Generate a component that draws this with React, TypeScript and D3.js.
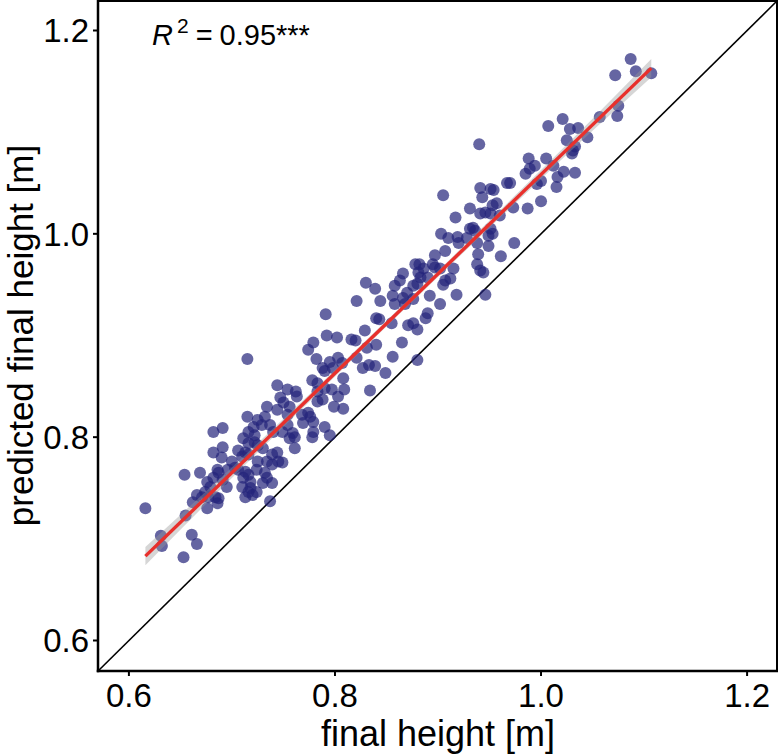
import React from 'react';
import * as d3 from 'd3';

// [final height, predicted final height] in metres
const observations: [number, number][] = [
  [0.616, 0.730], [0.654, 0.763], [0.655, 0.723], [0.631, 0.703], [0.632, 0.693], [0.661, 0.704], [0.666, 0.695], [0.653, 0.682],
  [0.715, 0.877], [0.782, 0.877], [0.795, 0.874], [0.803, 0.878], [0.807, 0.873], [0.788, 0.868], [0.790, 0.865], [0.798, 0.868],
  [0.808, 0.858], [0.778, 0.856], [0.783, 0.853], [0.744, 0.851], [0.754, 0.847], [0.762, 0.845], [0.763, 0.840], [0.747, 0.839],
  [0.750, 0.834], [0.734, 0.830], [0.744, 0.827], [0.756, 0.830], [0.754, 0.822], [0.783, 0.845], [0.788, 0.837], [0.790, 0.848],
  [0.797, 0.847], [0.803, 0.840], [0.809, 0.847], [0.783, 0.835], [0.799, 0.830], [0.808, 0.828], [0.768, 0.822], [0.774, 0.824],
  [0.776, 0.820], [0.769, 0.814], [0.779, 0.815], [0.790, 0.810], [0.795, 0.802], [0.779, 0.805], [0.778, 0.800], [0.715, 0.820],
  [0.725, 0.817], [0.732, 0.820], [0.729, 0.812], [0.721, 0.810], [0.716, 0.805], [0.722, 0.802], [0.691, 0.809], [0.682, 0.805],
  [0.737, 0.812], [0.740, 0.805], [0.749, 0.805], [0.754, 0.812], [0.759, 0.804], [0.756, 0.799], [0.761, 0.800], [0.761, 0.789],
  [0.711, 0.799], [0.716, 0.794], [0.722, 0.795], [0.725, 0.792], [0.706, 0.787], [0.713, 0.785], [0.710, 0.781], [0.716, 0.783],
  [0.691, 0.790], [0.682, 0.785], [0.690, 0.780], [0.730, 0.789], [0.739, 0.783], [0.744, 0.785], [0.745, 0.776], [0.749, 0.775],
  [0.734, 0.776], [0.739, 0.773], [0.725, 0.776], [0.724, 0.768], [0.700, 0.776], [0.703, 0.770], [0.696, 0.768], [0.706, 0.768],
  [0.713, 0.766], [0.716, 0.763], [0.711, 0.760], [0.718, 0.756], [0.732, 0.765], [0.734, 0.760], [0.730, 0.755], [0.739, 0.755],
  [0.686, 0.768], [0.687, 0.765], [0.682, 0.760], [0.691, 0.758], [0.695, 0.751], [0.710, 0.751], [0.718, 0.750], [0.716, 0.746],
  [0.713, 0.741], [0.724, 0.746], [0.720, 0.743], [0.669, 0.765], [0.676, 0.756], [0.679, 0.751], [0.674, 0.746], [0.666, 0.743],
  [0.671, 0.741], [0.677, 0.741], [0.684, 0.741], [0.687, 0.740], [0.676, 0.730], [0.686, 0.735], [0.737, 0.737], [0.662, 0.736],
  [0.830, 0.952], [0.821, 0.934], [0.791, 0.921], [0.840, 0.917], [0.843, 0.916], [0.792, 0.900], [0.802, 0.898], [0.816, 0.896],
  [0.820, 0.895], [0.829, 0.905], [0.779, 0.893], [0.774, 0.886], [0.831, 0.888], [0.840, 0.891], [0.821, 0.878], [0.827, 0.868],
  [0.833, 0.871], [0.839, 0.870], [0.849, 0.863], [0.834, 0.846], [0.890, 0.922], [0.888, 0.917], [0.871, 0.910], [0.876, 0.912],
  [0.880, 0.906], [0.855, 0.912], [0.865, 0.893], [0.856, 0.879], [0.880, 0.876],
  [0.905, 1.038], [0.941, 1.045], [0.951, 1.044], [0.954, 1.043], [0.943, 1.036], [0.967, 1.050], [0.970, 1.050], [0.957, 1.030],
  [0.953, 1.028], [0.931, 1.025], [0.941, 1.020], [0.946, 1.021], [0.951, 1.020], [0.960, 1.018], [0.973, 1.026], [0.987, 1.025],
  [0.917, 1.016], [0.931, 1.005], [0.934, 1.006], [0.936, 1.003], [0.951, 1.005], [0.953, 1.000], [0.903, 1.000], [0.910, 0.996],
  [0.919, 0.997], [0.920, 0.991], [0.928, 0.996], [0.938, 0.991], [0.949, 0.998], [0.949, 0.988], [0.974, 0.991], [0.897, 0.979],
  [0.907, 0.983], [0.939, 0.980], [0.961, 0.978], [0.878, 0.970], [0.882, 0.970], [0.895, 0.970], [0.915, 0.966], [0.938, 0.970],
  [0.941, 0.964], [0.944, 0.962], [0.907, 0.954], [0.912, 0.956], [0.905, 0.950], [0.946, 0.940], [0.918, 0.940], [0.886, 0.966],
  [0.881, 0.962], [0.897, 0.967], [0.902, 0.966], [0.866, 0.961], [0.863, 0.954], [0.858, 0.949], [0.883, 0.957], [0.880, 0.951],
  [0.876, 0.949], [0.890, 0.957], [0.870, 0.942], [0.866, 0.937], [0.876, 0.936], [0.868, 0.931], [0.856, 0.939], [0.858, 0.931],
  [0.839, 0.946], [0.844, 0.934], [0.892, 0.939], [0.902, 0.931],
  [0.940, 1.088], [1.007, 1.106], [1.021, 1.113], [1.028, 1.103], [1.036, 1.104], [1.045, 1.095], [1.025, 1.092], [1.033, 1.086],
  [1.031, 1.082], [1.030, 1.079], [1.057, 1.115], [1.074, 1.116], [1.075, 1.126], [0.988, 1.074], [1.005, 1.074], [0.994, 1.067],
  [0.989, 1.064], [0.985, 1.059], [1.012, 1.067], [1.022, 1.061], [1.016, 1.056], [1.015, 1.046], [1.033, 1.060], [1.000, 1.052],
  [0.996, 1.049], [1.000, 1.032],
  [1.087, 1.172], [1.072, 1.156], [1.092, 1.160], [1.107, 1.158],
];

const xTicks = [0.6, 0.8, 1.0, 1.2];
const yTicks = [0.6, 0.8, 1.0, 1.2];
const axisDomain = [0.57, 1.23];

// fitted regression line (ends) and its confidence band half-width
const fitX = [0.616, 1.107];
const fitY = [0.683, 1.163];
const bandX = [0.616, 0.68, 0.75, 0.82, 0.9, 0.98, 1.05, 1.107];
const bandHalf = [0.009, 0.006, 0.004, 0.003, 0.003, 0.004, 0.006, 0.009];

const FONT = '"Liberation Sans", Arial, Helvetica, sans-serif';

export default function App() {
  const W = 780, H = 754;
  const left = 98, right = 778, top = 0, bottom = 671;
  const x = d3.scaleLinear().domain(axisDomain).range([left, right]);
  const y = d3.scaleLinear().domain(axisDomain).range([bottom, top]);

  const fitAt = (v: number) => fitY[0] + (v - fitX[0]) * (fitY[1] - fitY[0]) / (fitX[1] - fitX[0]);
  const bandData = bandX.map((v, i) => ({ v, lo: fitAt(v) - bandHalf[i], hi: fitAt(v) + bandHalf[i] }));
  const bandPath = d3.area<{ v: number; lo: number; hi: number }>()
    .x(d => x(d.v)).y0(d => y(d.lo)).y1(d => y(d.hi)).curve(d3.curveMonotoneX)(bandData) || '';
  const linePath = d3.line<number>().x(v => x(v)).y(v => y(fitAt(v)))(fitX) || '';

  return (
    <svg width={W} height={H} style={{ position: 'absolute', left: 0, top: 0, background: '#fff' }} fontFamily={FONT}>
      <defs>
        <clipPath id="panel"><rect x={left} y={top} width={right - left} height={bottom - top} /></clipPath>
      </defs>
      <rect x={0} y={0} width={W} height={H} fill="#fff" />
      <g clipPath="url(#panel)">
        <line x1={x(axisDomain[0])} y1={y(axisDomain[0])} x2={x(axisDomain[1])} y2={y(axisDomain[1])} stroke="#000" strokeWidth={1.6} />
        {observations.map((d, i) => (
          <circle key={i} cx={x(d[0])} cy={y(d[1])} r={6} fill="#23237a" fillOpacity={0.7} />
        ))}
        <path d={bandPath} fill="#999" fillOpacity={0.4} />
        <path d={linePath} stroke="#e8302c" strokeWidth={3.4} fill="none" />
      </g>
      {/* panel border */}
      <line x1={left} y1={1} x2={right} y2={1} stroke="#000" strokeWidth={2} />
      <line x1={right - 1} y1={top} x2={right - 1} y2={bottom} stroke="#000" strokeWidth={2} />
      {/* axes */}
      <line x1={left} y1={top} x2={left} y2={bottom + 1.25} stroke="#000" strokeWidth={2.5} />
      <line x1={left - 1.25} y1={bottom} x2={right} y2={bottom} stroke="#000" strokeWidth={2.5} />
      {yTicks.map(t => (
        <g key={'y' + t}>
          <line x1={left - 5} x2={left} y1={y(t)} y2={y(t)} stroke="#000" strokeWidth={2} />
          <text x={left - 9} y={y(t)} dy="0.36em" textAnchor="end" fontSize={33} fill="#000">{t.toFixed(1)}</text>
        </g>
      ))}
      {xTicks.map(t => (
        <g key={'x' + t}>
          <line x1={x(t)} x2={x(t)} y1={bottom} y2={bottom + 5} stroke="#000" strokeWidth={2} />
          <text x={x(t)} y={bottom + 36} textAnchor="middle" fontSize={33} fill="#000">{t.toFixed(1)}</text>
        </g>
      ))}
      <text x={(left + right) / 2} y={746} textAnchor="middle" fontSize={36} fill="#000">final height [m]</text>
      <text transform={`translate(33,${(top + bottom) / 2}) rotate(-90)`} textAnchor="middle" fontSize={35} fill="#000">predicted final height [m]</text>
      <text x={152} y={45} fontSize={29} fill="#000">
        <tspan fontStyle="italic">R</tspan>
        <tspan fontSize={21} dx={4} dy={-12}>2</tspan>
        <tspan dx={7} dy={12}>=</tspan>
        <tspan dx={7}>0.95***</tspan>
      </text>
    </svg>
  );
}
